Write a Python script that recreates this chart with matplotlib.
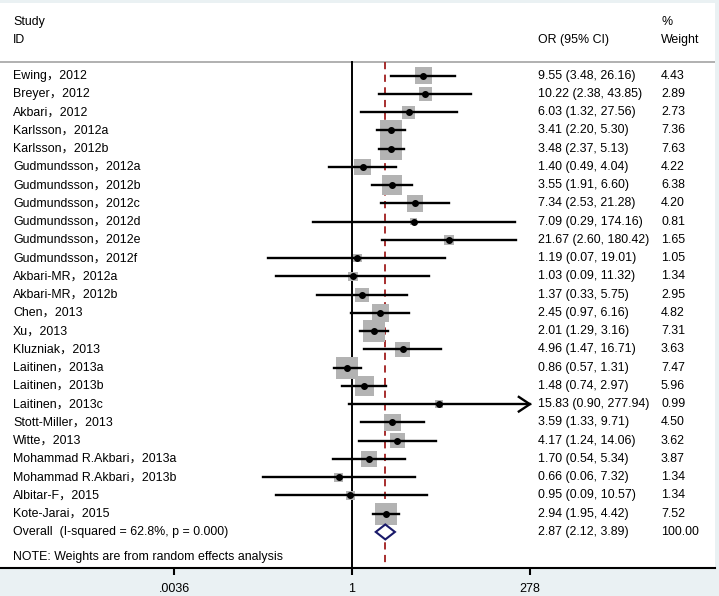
import numpy as np
import matplotlib
matplotlib.use("Agg")
import matplotlib.pyplot as plt

plt.rcParams['font.family'] = ['Liberation Sans', 'Noto Sans CJK SC']
plt.rcParams['font.size'] = 8.9

studies = ["Ewing\uff0c2012", "Breyer\uff0c2012", "Akbari\uff0c2012",
           "Karlsson\uff0c2012a", "Karlsson\uff0c2012b",
           "Gudmundsson\uff0c2012a", "Gudmundsson\uff0c2012b", "Gudmundsson\uff0c2012c",
           "Gudmundsson\uff0c2012d", "Gudmundsson\uff0c2012e", "Gudmundsson\uff0c2012f",
           "Akbari-MR\uff0c2012a", "Akbari-MR\uff0c2012b", "Chen\uff0c2013", "Xu\uff0c2013",
           "Kluzniak\uff0c2013", "Laitinen\uff0c2013a", "Laitinen\uff0c2013b",
           "Laitinen\uff0c2013c", "Stott-Miller\uff0c2013", "Witte\uff0c2013",
           "Mohammad R.Akbari\uff0c2013a", "Mohammad R.Akbari\uff0c2013b",
           "Albitar-F\uff0c2015", "Kote-Jarai\uff0c2015"]
odds = [9.55, 10.22, 6.03, 3.41, 3.48, 1.40, 3.55, 7.34, 7.09, 21.67, 1.19,
        1.03, 1.37, 2.45, 2.01, 4.96, 0.86, 1.48, 15.83, 3.59, 4.17, 1.70,
        0.66, 0.95, 2.94]
lower = [3.48, 2.38, 1.32, 2.20, 2.37, 0.49, 1.91, 2.53, 0.29, 2.60, 0.07,
         0.09, 0.33, 0.97, 1.29, 1.47, 0.57, 0.74, 0.90, 1.33, 1.24, 0.54,
         0.06, 0.09, 1.95]
upper = [26.16, 43.85, 27.56, 5.30, 5.13, 4.04, 6.60, 21.28, 174.16, 180.42,
         19.01, 11.32, 5.75, 6.16, 3.16, 16.71, 1.31, 2.97, 277.94, 9.71,
         14.06, 5.34, 7.32, 10.57, 4.42]
weights = [4.43, 2.89, 2.73, 7.36, 7.63, 4.22, 6.38, 4.20, 0.81, 1.65, 1.05,
           1.34, 2.95, 4.82, 7.31, 3.63, 7.47, 5.96, 0.99, 4.50, 3.62, 3.87,
           1.34, 1.34, 7.52]
overall_label = "Overall  (I-squared = 62.8%, p = 0.000)"
overall = (2.87, 2.12, 3.89)
ticks = [0.0036, 1, 278]
tick_labels = [".0036", "1", "278"]

W, H = 719, 596
fig = plt.figure(figsize=(W / 100, H / 100), dpi=100)
fig.patch.set_facecolor('#eaf1f3')
ax = fig.add_axes([0, (H - 568) / H, 715 / W, (568 - 3) / H])
ax.set_facecolor('white')

px = 31.6  # pixels per ln unit
x0 = 352
ax.set_xscale('log')
ax.set_xlim(np.exp(-x0 / px), np.exp((715 - x0) / px))
row_px = 18.25
ax.set_ylim(1 + (568 - 75.7) / row_px, 1 - (75.7 - 3) / row_px)

for s in ['top', 'right', 'left']:
    ax.spines[s].set_visible(False)
ax.spines['bottom'].set_linewidth(1.5)
ax.set_yticks([])
ax.set_xticks(ticks)
ax.set_xticklabels(tick_labels)
ax.minorticks_off()
ax.tick_params(axis='x', direction='out', length=5, width=1.5, pad=6, labelsize=9)

hdr = 1 - (75.7 - 62) / row_px
ax.axhline(hdr, color='#aaaaaa', lw=1.3)
ybot = ax.get_ylim()[0]
ax.plot([1, 1], [hdr, ybot], color='black', lw=1.4, zorder=2)
ax.plot([overall[0]] * 2, [hdr, ybot], color='#a01e1e', lw=1.3,
        dashes=(4, 3), zorder=2)

rows = np.arange(1, len(studies) + 1)
right_end = ticks[-1]
head = np.exp(-11 / px)
ax.scatter(odds, rows, marker='s', s=[32.6 * w for w in weights],
           color='#b3b3b3', edgecolors='none', zorder=3)
for r, lo, hi in zip(rows, lower, upper):
    if hi >= right_end * 0.99:
        # CI reaches the end of the scale: open arrowhead at 278
        ax.plot([lo, right_end], [r, r], color='black', lw=1.7, zorder=4)
        ax.plot([right_end * head, right_end, right_end * head],
                [r - 0.4, r, r + 0.4], color='black', lw=1.7, zorder=4,
                solid_joinstyle='miter')
    else:
        ax.plot([lo, hi], [r, r], color='black', lw=1.7, zorder=4)
ax.plot(odds, rows, 'o', color='black', ms=4, zorder=5)

ro = len(studies) + 1
est, lo, hi = overall
ax.fill([lo, est, hi, est, lo], [ro, ro - 0.41, ro, ro + 0.41, ro],
        facecolor='white', edgecolor='#1a1a6a', lw=1.5, zorder=5)

tr = ax.get_yaxis_transform()
def fx(p):
    return p / 715

ax.text(fx(13), -1.94, "Study", transform=tr, va='center', ha='left')
ax.text(fx(13), -0.96, "ID", transform=tr, va='center', ha='left')
ax.text(fx(538), -0.96, "OR (95% CI)", transform=tr, va='center', ha='left')
ax.text(fx(661), -1.94, "%", transform=tr, va='center', ha='left')
ax.text(fx(661), -0.96, "Weight", transform=tr, va='center', ha='left')

for r, name, o, l, u, w in zip(rows, studies, odds, lower, upper, weights):
    ax.text(fx(13), r, name, transform=tr, va='center', ha='left')
    ax.text(fx(538), r, "%.2f (%.2f, %.2f)" % (o, l, u), transform=tr,
            va='center', ha='left')
    ax.text(fx(661), r, "%.2f" % w, transform=tr, va='center', ha='left')
ax.text(fx(13), ro, overall_label, transform=tr, va='center', ha='left')
ax.text(fx(538), ro, "%.2f (%.2f, %.2f)" % overall, transform=tr,
        va='center', ha='left')
ax.text(fx(661), ro, "100.00", transform=tr, va='center', ha='left')
ax.text(fx(13), 1 + (557 - 75.7) / row_px, "NOTE: Weights are from random effects analysis",
        transform=tr, va='center', ha='left')

fig.savefig('out.png', dpi=100, facecolor=fig.get_facecolor())
